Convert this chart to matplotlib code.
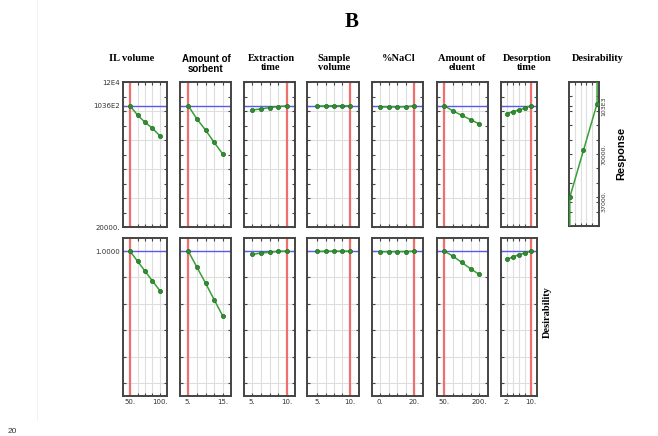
import matplotlib
matplotlib.use("Agg")
import matplotlib.pyplot as plt
from matplotlib.ticker import FixedLocator, FuncFormatter, MultipleLocator
from matplotlib.lines import Line2D

# factor names and levels
titles = ["IL volume", "Amount of\nsorbent", "Extraction\ntime", "Sample\nvolume",
          "%NaCl", "Amount of\neluent", "Desorption\ntime"]
il_levels = [50, 62.5, 75, 87.5, 100]
sorbent_levels = [5, 7.5, 10, 12.5, 15]
ext_levels = [5, 6.25, 7.5, 8.75, 10]
sample_levels = [5, 6.25, 7.5, 8.75, 10]
nacl_levels = [0, 5, 10, 15, 20]
eluent_levels = [50, 87.5, 125, 162.5, 200]
desorp_levels = [2, 4, 6, 8, 10]

# predicted response at each level
il_resp = [103600, 97200, 92200, 88100, 82800]
sorbent_resp = [103600, 94500, 86900, 78400, 70300]
ext_resp = [100700, 101400, 102300, 103000, 103600]
sample_resp = [103400, 103500, 103600, 103600, 103600]
nacl_resp = [102800, 102800, 102800, 102900, 103600]
eluent_resp = [103600, 100000, 97000, 94000, 91000]
desorp_resp = [98100, 99500, 100700, 101900, 103600]

# desirability at each level
il_des = [1.0, 0.924, 0.849, 0.773, 0.699]
sorbent_des = [1.0, 0.879, 0.758, 0.632, 0.508]
ext_des = [0.975, 0.986, 0.991, 0.999, 1.0]
sample_des = [0.998, 0.999, 1.0, 1.0, 1.0]
nacl_des = [0.995, 0.996, 0.996, 0.997, 1.0]
eluent_des = [1.0, 0.962, 0.914, 0.866, 0.823]
desorp_des = [0.937, 0.955, 0.973, 0.985, 1.0]

optimum = [50, 5, 10, 10, 20, 50, 10]
opt_resp = 103600
opt_des = 1.0

# desirability function panel
desf_x = [0, 0, 0.5, 1, 1]
desf_y = [20000, 40000, 72500, 105000, 120000]
desf_ticks = [37000, 70000, 103000]
desf_labels = ["37000.", "70000.", "103E3"]

levels = [il_levels, sorbent_levels, ext_levels, sample_levels, nacl_levels, eluent_levels, desorp_levels]
resp = [il_resp, sorbent_resp, ext_resp, sample_resp, nacl_resp, eluent_resp, desorp_resp]
des = [il_des, sorbent_des, ext_des, sample_des, nacl_des, eluent_des, desorp_des]
xlims = [(38.3, 111.7), (2.6, 17.4), (3.8, 11.2), (3.4, 11.4), (-4.7, 25.1), (18.7, 237), (0.1, 12.1)]

W, H = 658, 436
# panel pixel columns (left, right)
cols = [(123, 167), (180, 231), (244, 295), (307, 359), (372, 423), (437, 488), (501, 537)]
title_x = [132, 206, 271, 334, 399, 462, 527]
top_row = (82, 227)
bot_row = (238, 396)

fig = plt.figure(figsize=(W / 100, H / 100), dpi=100)
fig.patch.set_facecolor("white")

SERIF = ["Liberation Serif", "DejaVu Serif"]
SANS = ["Liberation Sans", "DejaVu Sans"]
FRAME = "#444444"
RED = "#f06e6e"
BLUE = "#5a5af0"
GREEN = "#38a038"
GRID = "#dedede"


def rect(x0, x1, y0, y1):
    return [x0 / W, 1 - y1 / H, (x1 - x0) / W, (y1 - y0) / H]


def style(ax):
    for s in ax.spines.values():
        s.set_color(FRAME)
        s.set_linewidth(1.4)
    ax.tick_params(which="both", direction="in", top=True, right=True,
                   length=2.5, width=0.8, color=FRAME, labelsize=5,
                   labelcolor="#333333", pad=2)
    ax.set_axisbelow(True)


def xfmt(first, last):
    return FuncFormatter(lambda v, p: f"{v:g}." if v in (first, last) else "")


top_lab = {120000: "12E4", 103600: "1036E2", 20000: "20000."}

for i in range(7):
    x0, x1 = cols[i]
    lv = levels[i]
    for row, (y0, y1) in enumerate([top_row, bot_row]):
        ax = fig.add_axes(rect(x0, x1, y0, y1))
        style(ax)
        yv = resp[i] if row == 0 else des[i]
        ax.axvline(optimum[i], color=RED, lw=1.6, zorder=2)
        ax.axhline(opt_resp if row == 0 else opt_des, color=BLUE, lw=1.0, zorder=2)
        ax.plot(lv, yv, color=GREEN, lw=1.1, marker="o", ms=3,
                mfc="#2f8f2f", mec="#1f6f1f", mew=0.5, zorder=3)
        ax.set_xlim(*xlims[i])
        ax.xaxis.set_major_locator(FixedLocator(lv))
        ax.grid(True, axis="x", color=GRID, lw=0.8)
        ax.grid(True, axis="y", color=GRID, lw=0.8)
        if row == 0:
            ax.set_ylim(20000, 120000)
            ax.yaxis.set_major_locator(FixedLocator([20000, 40000, 60000, 80000, 100000, 103600, 120000]))
            ax.yaxis.set_minor_locator(MultipleLocator(10000))
            ax.yaxis.set_major_formatter(FuncFormatter(lambda v, p: top_lab.get(round(v), "")))
            ax.tick_params(axis="x", labelbottom=False)
        else:
            ax.set_ylim(-0.1, 1.1)
            ax.yaxis.set_major_locator(FixedLocator([0, 0.2, 0.4, 0.6, 0.8, 1.0]))
            ax.yaxis.set_major_formatter(FuncFormatter(lambda v, p: "1.0000" if abs(v - 1) < 1e-9 else ""))
            ax.xaxis.set_major_formatter(xfmt(lv[0], lv[-1]))
        if i > 0:
            ax.tick_params(axis="y", labelleft=False)
    fam = SANS if i == 1 else SERIF
    fig.text(title_x[i] / W, 1 - 54 / H, titles[i], ha="center", va="top",
             fontsize=7 if i == 1 else 7.5, fontweight="bold", family=fam, linespacing=1.0)

# desirability function panel
axd = fig.add_axes(rect(569, 599, 82, 226))
style(axd)
axd.plot(desf_x, desf_y, color=GREEN, lw=1.1, zorder=3)
axd.plot(desf_x[1:4], desf_y[1:4], ls="none", marker="o", ms=3,
         mfc="#2f8f2f", mec="#1f6f1f", mew=0.5, zorder=4)
axd.set_xlim(-0.03, 1.07)
axd.set_ylim(20000, 120000)
axd.xaxis.set_major_locator(FixedLocator([0.2, 0.4, 0.6, 0.8]))
axd.yaxis.set_minor_locator(MultipleLocator(10000))
axd.set_yticks(desf_ticks, desf_labels)
axd.yaxis.set_major_locator(FixedLocator(desf_ticks))
axd.grid(True, axis="x", color=GRID, lw=0.8)
axd.tick_params(axis="x", labelbottom=False)
axd.tick_params(axis="y", labelleft=False, labelright=True, labelsize=4.5)
for lab in axd.get_yticklabels():
    lab.set_rotation(90)
    lab.set_va("center")
fig.text(598 / W, 1 - 54 / H, "Desirability", ha="center", va="top",
         fontsize=7.5, fontweight="bold", family=SERIF)
fig.text(621 / W, 1 - 153 / H, "Response", rotation=90, ha="center", va="center",
         fontsize=8, fontweight="bold", family=SANS)
fig.text(547 / W, 1 - 312 / H, "Desirability", rotation=90, ha="center", va="center",
         fontsize=7.5, fontweight="bold", family=SERIF)

fig.text(352 / W, 1 - 22 / H, "B", ha="center", va="center",
         fontsize=15, fontweight="bold", family=SERIF)

# page edge and page number
fig.add_artist(Line2D([37 / W, 37 / W], [1 - 420 / H, 1], color="#f2f2f2", lw=0.8))
fig.text(8 / W, 1.5 / H, "20", ha="left", va="bottom", fontsize=6, family=SANS, color="#333333")

fig.savefig("out.png", dpi=100)
